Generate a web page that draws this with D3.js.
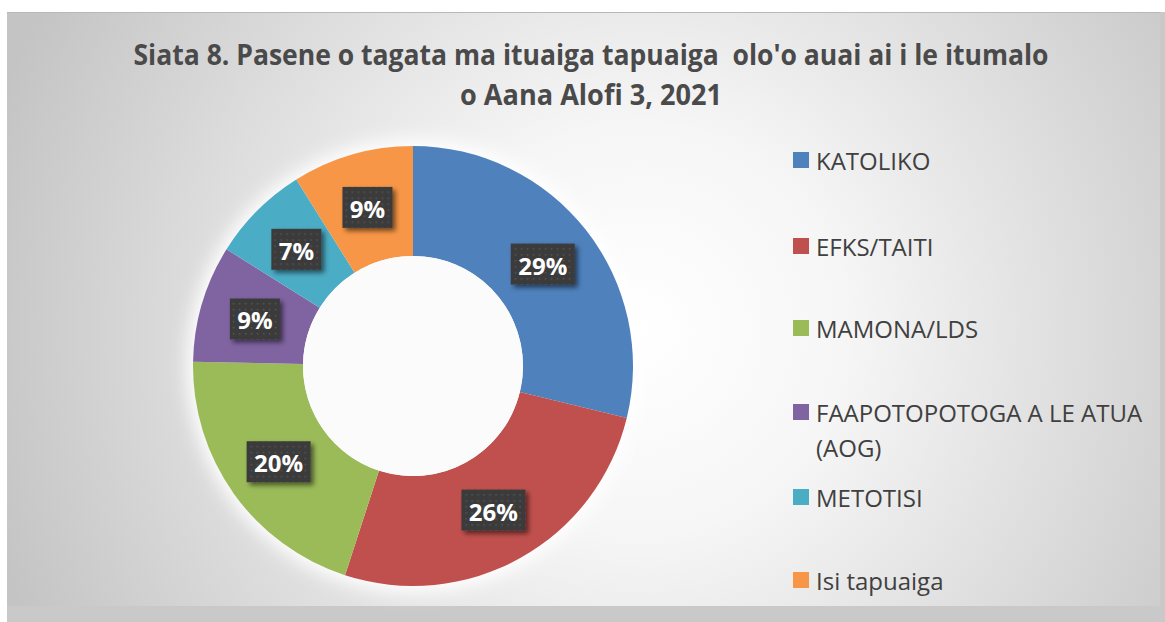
<!DOCTYPE html>
<html>
<head>
<meta charset="utf-8">
<script src="https://cdn.jsdelivr.net/npm/d3@7"></script>
<style>
  body { margin: 0; background: #fff; }
  svg { display: block; }
  text { white-space: pre; }
</style>
</head>
<body>
<svg id="chart" width="1165" height="622"></svg>
<script>
// data (percent of people)
const categories = ["KATOLIKO", "EFKS/TAITI", "MAMONA/LDS", "FAAPOTOPOTOGA A LE ATUA (AOG)", "METOTISI", "Isi tapuaiga"];
const legendLines = [["KATOLIKO"], ["EFKS/TAITI"], ["MAMONA/LDS"], ["FAAPOTOPOTOGA A LE ATUA", "(AOG)"], ["METOTISI"], ["Isi tapuaiga"]];
const values = [28.8, 26.2, 20.3, 8.6, 7.2, 8.9];
const colors = ["#4f81bd", "#c0504d", "#9bbb59", "#8064a2", "#4bacc6", "#f79646"];
const titleLines = ["Siata 8. Pasene o tagata ma ituaiga tapuaiga  olo'o auai ai i le itumalo", "o Aana Alofi 3, 2021"];

const svg = d3.select("#chart");
const W = 1165, H = 622;
const frame = { x: 7, y: 12, w: 1153, h: 594 };

const defs = svg.append("defs");

// background radial gradient
const bg = defs.append("radialGradient")
  .attr("id", "bg")
  .attr("gradientUnits", "userSpaceOnUse")
  .attr("cx", 640).attr("cy", 330).attr("r", 680);
bg.append("stop").attr("offset", "0%").attr("stop-color", "#ffffff");
bg.append("stop").attr("offset", "30%").attr("stop-color", "#f6f6f6");
bg.append("stop").attr("offset", "100%").attr("stop-color", "#c4c4c4");

// white glow round the donut
const glow = defs.append("filter").attr("id", "glow")
  .attr("x", "-20%").attr("y", "-20%").attr("width", "140%").attr("height", "140%");
glow.append("feGaussianBlur").attr("stdDeviation", 9);

// label box shadow
const shadow = defs.append("filter").attr("id", "shadow")
  .attr("x", "-30%").attr("y", "-30%").attr("width", "170%").attr("height", "170%");
shadow.append("feGaussianBlur").attr("in", "SourceAlpha").attr("stdDeviation", 2.5).attr("result", "b");
shadow.append("feOffset").attr("in", "b").attr("dx", 3).attr("dy", 3).attr("result", "o");
shadow.append("feComponentTransfer").attr("in", "o").attr("result", "s")
  .append("feFuncA").attr("type", "linear").attr("slope", 0.55);
const merge = shadow.append("feMerge");
merge.append("feMergeNode").attr("in", "s");
merge.append("feMergeNode").attr("in", "SourceGraphic");

// dotted fill of the label boxes
const pat = defs.append("pattern").attr("id", "dots")
  .attr("patternUnits", "userSpaceOnUse").attr("width", 6).attr("height", 6);
pat.append("rect").attr("width", 6).attr("height", 6).attr("fill", "#3b3b3b");
pat.append("rect").attr("x", 2).attr("y", 2).attr("width", 1.5).attr("height", 1.5).attr("fill", "#555");

// outer strips
svg.append("rect").attr("x", frame.x).attr("y", frame.y + frame.h).attr("width", W - frame.x).attr("height", H - frame.y - frame.h).attr("fill", "#c9c9c9");
svg.append("rect").attr("x", frame.x + frame.w).attr("y", frame.y).attr("width", W - frame.x - frame.w).attr("height", H - frame.y).attr("fill", "#c9c9c9");

svg.append("rect")
  .attr("x", frame.x).attr("y", frame.y)
  .attr("width", frame.w).attr("height", frame.h)
  .attr("fill", "url(#bg)");
svg.append("line")
  .attr("x1", frame.x).attr("x2", frame.x + frame.w)
  .attr("y1", frame.y + 0.5).attr("y2", frame.y + 0.5)
  .attr("stroke", "#b8b8b8");

// title
const title = svg.append("g")
  .attr("font-family", "'Open Sans', 'Noto Sans', sans-serif")
  .attr("font-weight", "bold")
  .attr("font-size", 28)
  .attr("fill", "#4a4a4a")
  .attr("text-anchor", "middle");
title.append("text").attr("x", 591).attr("y", 65).text(titleLines[0])
  .attr("textLength", 915).attr("lengthAdjust", "spacingAndGlyphs");
title.append("text").attr("x", 591).attr("y", 105).text(titleLines[1])
  .attr("textLength", 262).attr("lengthAdjust", "spacingAndGlyphs");

// donut
const cx = 413, cy = 366, rOuter = 220, rInner = 110;
const pie = d3.pie().sort(null).value(d => d);
const arcs = pie(values);
const arc = d3.arc().innerRadius(rInner).outerRadius(rOuter);
const labelArc = d3.arc().innerRadius((rInner + rOuter) / 2).outerRadius((rInner + rOuter) / 2);

const g = svg.append("g").attr("transform", `translate(${cx},${cy})`);

g.append("circle").attr("r", rOuter + 6).attr("fill", "#ffffff").attr("filter", "url(#glow)");

g.selectAll("path.slice")
  .data(arcs)
  .join("path")
  .attr("class", "slice")
  .attr("d", arc)
  .attr("fill", (d, i) => colors[i]);

g.append("circle").attr("r", rInner).attr("fill", "#fbfbfb");

const total = d3.sum(values);
const fmt = v => Math.round(v / total * 100) + "%";

const labels = g.selectAll("g.lbl")
  .data(arcs)
  .join("g")
  .attr("class", "lbl")
  .attr("transform", d => `translate(${labelArc.centroid(d)})`);

labels.each(function(d) {
  const sel = d3.select(this);
  const txt = fmt(d.value);
  const bw = txt.length === 3 ? 64 : 50;
  sel.append("rect")
    .attr("x", -bw / 2).attr("y", -20.5)
    .attr("width", bw).attr("height", 41)
    .attr("fill", "url(#dots)")
    .attr("filter", "url(#shadow)");
  sel.append("text")
    .attr("text-anchor", "middle")
    .attr("dominant-baseline", "central")
    .attr("y", 1)
    .attr("font-family", "'Open Sans', 'Noto Sans', sans-serif")
    .attr("font-weight", "bold")
    .attr("font-size", 24)
    .attr("fill", "#ffffff")
    .text(txt);
});

// legend
const legendY = [160, 246, 328, 412, 497, 580];
const legend = svg.append("g")
  .attr("font-family", "'Open Sans', 'Noto Sans', sans-serif")
  .attr("font-size", 24)
  .attr("fill", "#404040");

categories.forEach((c, i) => {
  const row = legend.append("g").attr("transform", `translate(793,${legendY[i]})`);
  row.append("rect").attr("x", 0).attr("y", -8).attr("width", 16).attr("height", 16).attr("fill", colors[i]);
  legendLines[i].forEach((line, j) => {
    const t = row.append("text")
      .attr("x", 23).attr("y", j * 35)
      .attr("dominant-baseline", "central")
      .text(line);
    const len = t.node().getComputedTextLength();
    if (len > 333) t.attr("textLength", 333).attr("lengthAdjust", "spacingAndGlyphs");
  });
});
</script>
</body>
</html>
